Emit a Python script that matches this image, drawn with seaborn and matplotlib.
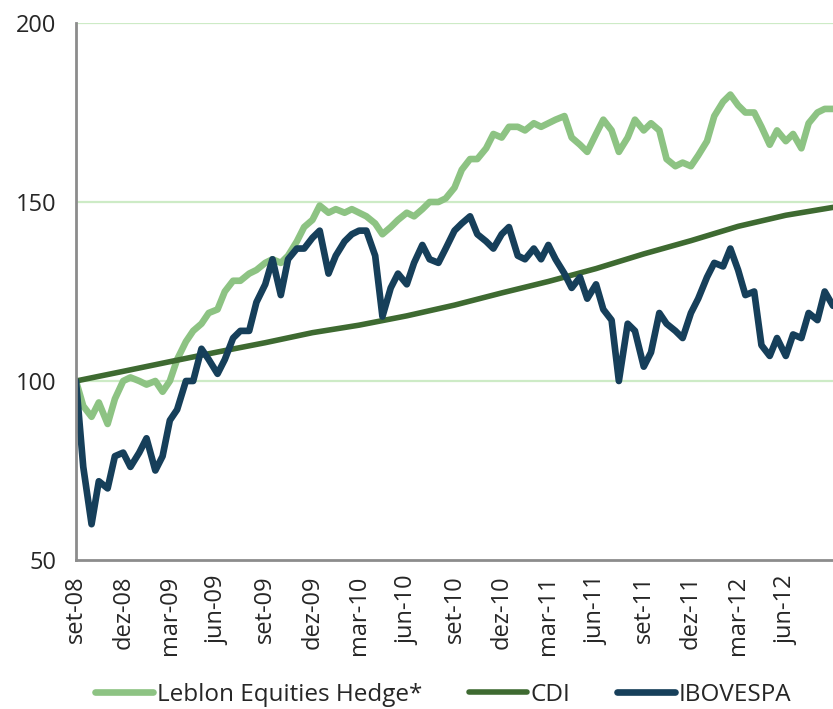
import matplotlib
matplotlib.use("Agg")

import matplotlib.pyplot as plt
import numpy as np
import pandas as pd
import seaborn as sns
from matplotlib.ticker import FixedLocator


# semi-monthly observations, sep-08 .. end of aug-12
DATES = list(pd.date_range("2008-09-01", "2012-08-15", freq="SMS")) + [pd.Timestamp("2012-08-31")]

LEBLON = [
    100, 93, 90, 94, 88, 95, 100, 101, 100, 99,
    100, 97, 100, 106, 111, 114, 116, 119, 120, 125,
    128, 128, 130, 131, 133, 134, 133, 135, 139, 143,
    145, 149, 147, 148, 147, 148, 147, 146, 144, 141,
    143, 145, 147, 146, 148, 150, 150, 151, 154, 159,
    162, 162, 165, 169, 168, 171, 171, 170, 172, 171,
    172, 173, 174, 168, 166, 164, 169, 173, 170, 164,
    168, 173, 170, 172, 170, 162, 160, 161, 160, 163,
    167, 174, 178, 180, 177, 175, 175, 171, 166, 170,
    167, 169, 165, 172, 175, 176, 176,
]

IBOVESPA = [
    100, 76, 60, 72, 70, 79, 80, 76, 80, 84,
    75, 79, 89, 92, 100, 100, 109, 106, 102, 106,
    112, 114, 114, 122, 127, 134, 124, 134, 137, 137,
    140, 142, 130, 135, 139, 141, 142, 142, 135, 118,
    126, 130, 127, 133, 138, 134, 133, 137, 142, 144,
    146, 141, 139, 137, 141, 143, 135, 134, 137, 134,
    138, 134, 130, 126, 129, 123, 127, 120, 117, 100,
    116, 114, 104, 108, 119, 116, 114, 112, 119, 123,
    129, 133, 132, 137, 131, 124, 125, 110, 107, 112,
    107, 113, 112, 119, 117, 125, 121,
]

# CDI is smooth, read at the quarterly ticks
CDI_DATES = list(pd.date_range("2008-09-01", "2012-06-01", freq="3MS")) + [pd.Timestamp("2012-08-31")]
CDI = [
    100.0, 102.7, 105.4, 108.1, 110.7, 113.5, 115.6, 118.2, 121.2,
    124.6, 127.8, 131.4, 135.5, 139.2, 143.2, 146.3, 148.5,
]

TICK_DATES = pd.date_range("2008-09-01", "2012-06-01", freq="3MS")
TICK_LABELS = [
    "set-08", "dez-08", "mar-09", "jun-09", "set-09", "dez-09",
    "mar-10", "jun-10", "set-10", "dez-10", "mar-11", "jun-11",
    "set-11", "dez-11", "mar-12", "jun-12",
]
Y_TICKS = [50, 100, 150, 200]

COLORS = {
    "Leblon Equities Hedge*": "#8DC383",
    "CDI": "#3E6A31",
    "IBOVESPA": "#163F5A",
}
GRAY = "#8C8C8C"


def main() -> None:
    sns.set_style("white")
    plt.rcParams["font.family"] = ["Open Sans", "DejaVu Sans"]

    fund = pd.DataFrame({"date": DATES, "Leblon Equities Hedge*": LEBLON, "IBOVESPA": IBOVESPA})
    cdi = pd.DataFrame({"date": CDI_DATES, "CDI": CDI})

    fig = plt.figure(figsize=(8.33, 7.09), dpi=100)
    ax = fig.add_axes([76 / 833, 1 - 560 / 709, 1 - 76 / 833, (560 - 23) / 709])

    for y in [100, 150, 200]:
        ax.axhline(y, color="#CDEBC6", lw=1.6, zorder=0)

    sns.lineplot(data=fund, x="date", y="Leblon Equities Hedge*", ax=ax,
                 color=COLORS["Leblon Equities Hedge*"], lw=4.8, label="Leblon Equities Hedge*")
    sns.lineplot(data=cdi, x="date", y="CDI", ax=ax,
                 color=COLORS["CDI"], lw=4.0, label="CDI")
    sns.lineplot(data=fund, x="date", y="IBOVESPA", ax=ax,
                 color=COLORS["IBOVESPA"], lw=4.8, label="IBOVESPA")

    ax.set_xlim(pd.Timestamp("2008-09-01"), pd.Timestamp("2012-08-31"))
    ax.set_ylim(50, 200)
    ax.set_yticks(Y_TICKS)
    ax.set_yticklabels([str(v) for v in Y_TICKS], fontsize=17)
    ax.xaxis.set_major_locator(FixedLocator(matplotlib.dates.date2num(TICK_DATES)))
    ax.set_xticklabels(TICK_LABELS, rotation=90, fontsize=17)
    ax.set_xlabel("")
    ax.set_ylabel("")

    for side in ["top", "right"]:
        ax.spines[side].set_visible(False)
    for side in ["left", "bottom"]:
        ax.spines[side].set_color(GRAY)
        ax.spines[side].set_linewidth(2)
    ax.tick_params(axis="y", length=8, width=1.5, color=GRAY, pad=6)
    ax.tick_params(axis="x", length=7, width=1.5, color=GRAY, pad=4)

    ax.get_legend().remove()
    handles, labels = ax.get_legend_handles_labels()
    fig.legend(handles, labels, loc="center", bbox_to_anchor=(0.532, 0.02), ncol=3,
               frameon=False, fontsize=17.5, handlelength=2.4, handletextpad=0.15,
               columnspacing=1.9, borderaxespad=0)

    fig.savefig("out.png", dpi=100)
    plt.close(fig)


if __name__ == "__main__":
    main()
